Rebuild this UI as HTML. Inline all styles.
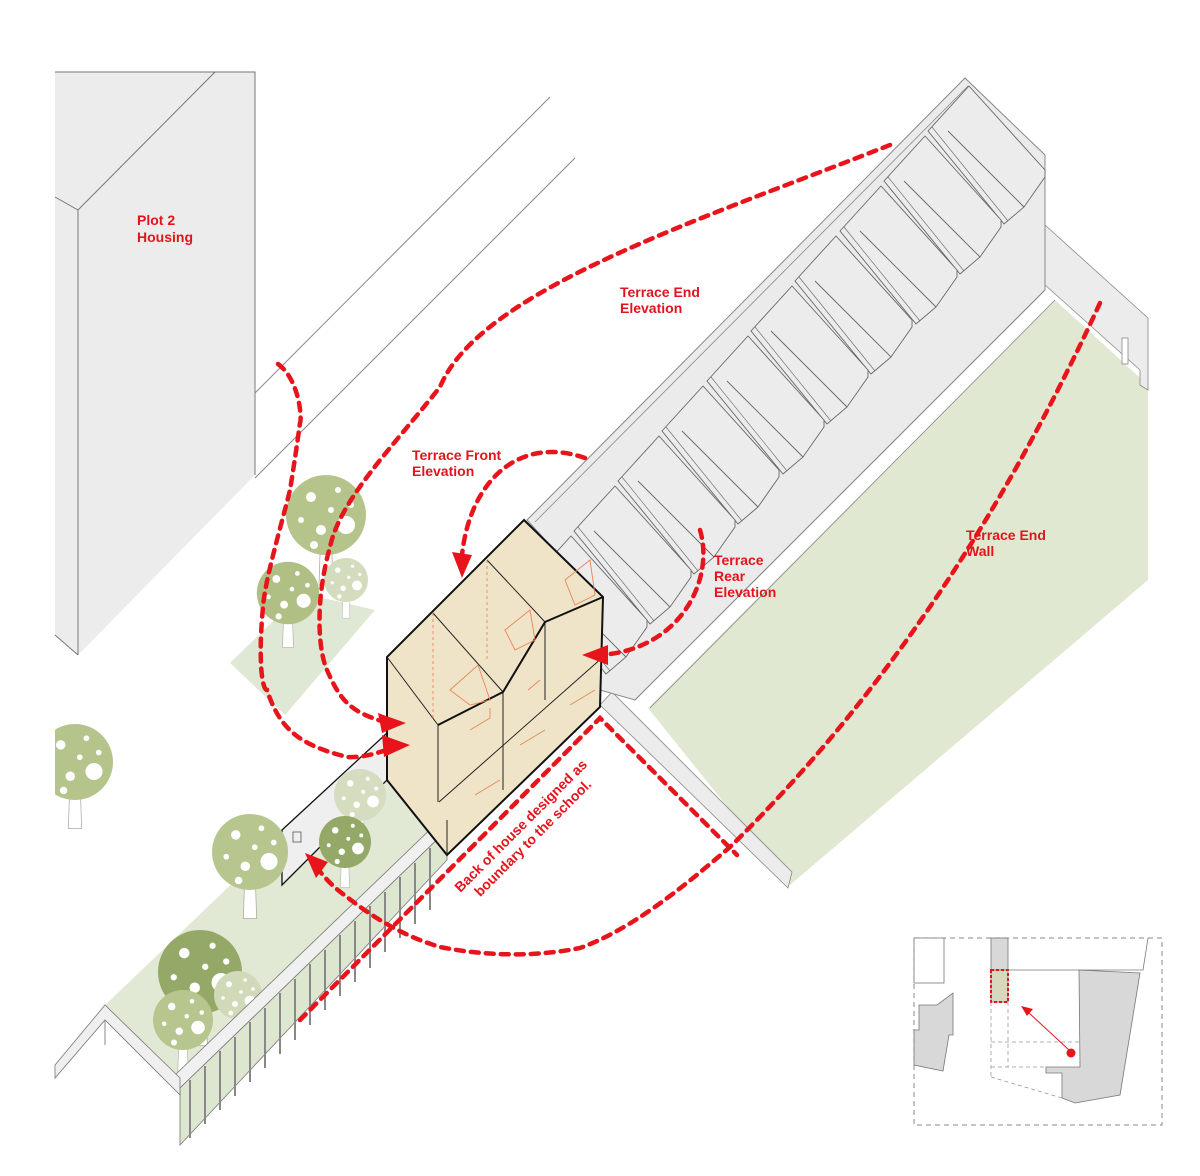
<!DOCTYPE html>
<html><head><meta charset="utf-8"><style>
html,body{margin:0;padding:0;background:#fff}
svg{display:block}
text{font-family:"Liberation Sans",sans-serif;font-weight:bold;fill:#e3141c;font-size:14px}
</style></head><body>
<svg width="1200" height="1176" viewBox="0 0 1200 1176" xmlns="http://www.w3.org/2000/svg">
<defs>
<g id="mod" fill="#ececec" stroke="#666" stroke-width="0.9">
  <polygon points="0,0 41,-45 117,39 117,46 96,76 76,93"/>
  <line x1="20" y1="0" x2="96" y2="76"/>
  <line x1="4" y1="-4" x2="80" y2="90" stroke-width="0.6"/>
</g>
<g id="tree">
  <path d="M-5,10 L-7,70 L7,70 L5,10 Z" fill="#fff" stroke="#aaa" stroke-width="0.8"/>
  <circle r="40" fill="currentColor"/>
  <circle cx="-15" cy="-18" r="5" fill="#fff"/><circle cx="12" cy="-25" r="3" fill="#fff"/>
  <circle cx="20" cy="10" r="9" fill="#fff"/><circle cx="-5" cy="15" r="5" fill="#fff"/>
  <circle cx="-25" cy="5" r="3" fill="#fff"/><circle cx="5" cy="-5" r="3" fill="#fff"/>
  <circle cx="-12" cy="30" r="4" fill="#fff"/><circle cx="25" cy="-10" r="3" fill="#fff"/>
</g>
</defs>

<!-- Plot 2 housing -->
<polygon points="55,72 255,72 255,475 78,655 55,635" fill="#ececec"/>
<polyline points="55,72 255,72 255,475" fill="none" stroke="#777" stroke-width="1"/>
<polyline points="55,197 78,210 215,72" fill="none" stroke="#777" stroke-width="1"/>
<line x1="78" y1="210" x2="78" y2="655" stroke="#777" stroke-width="1"/>
<line x1="55" y1="635" x2="78" y2="655" stroke="#777" stroke-width="1"/>
<line x1="255" y1="393" x2="550" y2="97" stroke="#888" stroke-width="1"/>
<line x1="255" y1="478" x2="575" y2="158" stroke="#888" stroke-width="1"/>

<!-- ground / green -->
<polygon points="648,708 1055,300 1148,385 1148,580 790,885" fill="#e1e8d2"/>
<polygon points="1045,225 1148,318 1148,390 1140,385 1140,370 1045,285" fill="#ececec" stroke="#888" stroke-width="0.8"/>
<rect x="1122" y="338" width="6" height="26" fill="#fff" stroke="#888" stroke-width="0.8"/>
<polygon points="600,705 612,692 792,872 788,888" fill="#ececec" stroke="#888" stroke-width="0.8"/>

<!-- terrace -->
<polygon points="527,520 965,78 1045,155 1045,290 635,700 600,690 600,600" fill="#ebebeb" stroke="#888" stroke-width="1"/>
<line x1="535" y1="522" x2="968" y2="86" stroke="#888" stroke-width="0.8"/>
<line x1="635" y1="700" x2="1045" y2="290" stroke="#888" stroke-width="0.8"/>
<line x1="650" y1="708" x2="1055" y2="300" stroke="#888" stroke-width="0.8"/>
<use href="#mod" transform="translate(928,131)"/>
<use href="#mod" transform="translate(884,181)"/>
<use href="#mod" transform="translate(840,231)"/>
<use href="#mod" transform="translate(795,281)"/>
<use href="#mod" transform="translate(751,331)"/>
<use href="#mod" transform="translate(707,381)"/>
<use href="#mod" transform="translate(662,431)"/>
<use href="#mod" transform="translate(618,481)"/>
<use href="#mod" transform="translate(574,531)"/>
<use href="#mod" transform="translate(530,581)"/>

<!-- green patch and trees top -->
<polygon points="230,663 302,593 375,610 285,715" fill="#dfe8d4"/>
<use href="#tree" transform="translate(326,515) scale(1)" color="#b4c48a"/>
<use href="#tree" transform="translate(288,593) scale(0.78)" color="#b0c085"/>
<use href="#tree" transform="translate(346,580) scale(0.55)" color="#d3dcbd"/>
<use href="#tree" transform="translate(75,762) scale(0.95)" color="#b4c48a"/>
<rect x="0" y="700" width="55" height="200" fill="#fff"/>

<!-- garden strip -->
<polygon points="100,1010 387,735 445,825 175,1090" fill="#e1e9d4"/>
<polygon points="282,830 387,733 387,780 282,885" fill="#efefef" stroke="#111" stroke-width="1.3"/>
<rect x="293" y="832" width="8" height="10" fill="none" stroke="#555" stroke-width="0.8"/>
<use href="#tree" transform="translate(250,852) scale(0.95)" color="#b6c68e"/>
<use href="#tree" transform="translate(360,795) scale(0.65)" color="#d5ddc0"/>
<use href="#tree" transform="translate(345,842) scale(0.65)" color="#94a868"/>
<use href="#tree" transform="translate(200,972) scale(1.05)" color="#94a868"/>
<use href="#tree" transform="translate(238,995) scale(0.6)" color="#d0d9b8"/>
<use href="#tree" transform="translate(183,1020) scale(0.75)" color="#b6c68e"/>
<!-- fence -->
<polygon points="175,1075 440,820 447,830 180,1088" fill="#f0f0f0" stroke="#777" stroke-width="0.8"/>
<polygon points="180,1088 447,830 447,860 180,1145" fill="#dde6cf" stroke="#777" stroke-width="0.8"/>
<g stroke="#888" stroke-width="2">
<line x1="190" y1="1080" x2="190" y2="1138"/><line x1="205" y1="1066" x2="205" y2="1124"/><line x1="220" y1="1051" x2="220" y2="1110"/><line x1="235" y1="1037" x2="235" y2="1096"/><line x1="250" y1="1022" x2="250" y2="1082"/><line x1="265" y1="1008" x2="265" y2="1068"/><line x1="280" y1="993" x2="280" y2="1054"/><line x1="295" y1="979" x2="295" y2="1040"/><line x1="310" y1="964" x2="310" y2="1025"/><line x1="325" y1="950" x2="325" y2="1010"/><line x1="340" y1="935" x2="340" y2="996"/><line x1="355" y1="921" x2="355" y2="982"/><line x1="370" y1="906" x2="370" y2="968"/><line x1="385" y1="892" x2="385" y2="952"/><line x1="400" y1="877" x2="400" y2="938"/><line x1="415" y1="863" x2="415" y2="924"/><line x1="430" y1="848" x2="430" y2="910"/>
</g>
<polygon points="55,1065 105,1005 180,1078 180,1095 105,1020 55,1078" fill="#efefef" stroke="#777" stroke-width="0.8"/>
<line x1="105" y1="1020" x2="105" y2="1045" stroke="#888"/>

<!-- house -->
<polygon points="524,520 603,597 600,707 447,855 387,780 387,657" fill="#efe4c8" stroke="#111" stroke-width="2"/>
<g stroke="#222" stroke-width="1" fill="none">
<line x1="387" y1="657" x2="438" y2="725"/>
<line x1="433" y1="613" x2="503" y2="692"/>
<line x1="487" y1="560" x2="545" y2="622"/>
<line x1="438" y1="725" x2="438" y2="802"/>
<line x1="503" y1="692" x2="503" y2="790"/>
<line x1="545" y1="622" x2="545" y2="700"/>
<line x1="439" y1="802" x2="603" y2="657"/>
</g>
<polyline points="438,725 503,692 545,622 603,597" fill="none" stroke="#111" stroke-width="2"/>
<line x1="447" y1="855" x2="447" y2="820" stroke="#222"/>
<g stroke="#e8865a" stroke-width="0.9" fill="none">
<polygon points="450,690 478,665 490,700 470,705"/><polygon points="505,630 530,610 535,640 515,650"/><polygon points="565,580 590,560 595,595 575,605"/>
<polyline points="470,730 490,718 490,708"/><polyline points="528,690 540,680"/><polyline points="475,795 500,780"/><polyline points="520,745 545,730"/><polyline points="570,705 595,690"/>
<line x1="433" y1="613" x2="433" y2="720" stroke-dasharray="3 3"/><line x1="487" y1="560" x2="487" y2="660" stroke-dasharray="3 3"/>
</g>

<!-- dashed arrows -->
<g fill="none" stroke="#e8141c" stroke-width="4.5" stroke-dasharray="8 7" stroke-linecap="round">
<path d="M890,145 C700,220 480,290 440,387 C390,450 340,500 330,547 C315,600 318,650 327,670 C340,700 350,712 385,722"/>
<path d="M278,364 C300,380 302,420 300,423 C295,460 290,490 290,490 C280,530 265,580 263,607 C258,660 262,690 267,690 C280,730 300,745 347,757 C365,758 380,752 392,748"/>
<path d="M585,458 C520,435 470,480 462,555"/>
<path d="M700,530 C715,580 680,650 600,655"/>
<path d="M1100,303 C1000,520 880,700 730,847 C680,890 630,930 580,948 C530,958 480,955 440,947 C400,935 370,915 347,897 C330,885 320,872 315,865"/>
<path d="M300,1020 L600,718 L737,855"/>
</g>
<g fill="#e8141c">
<polygon points="406,723 378,713 382,733"/>
<polygon points="410,745 382,735 384,757"/>
<polygon points="462,578 452,552 472,555"/>
<polygon points="582,655 608,645 608,665"/>
<polygon points="305,853 328,862 316,878"/>
</g>

<!-- labels -->
<text x="137" y="225">Plot 2</text><text x="137" y="242">Housing</text>
<text x="620" y="297">Terrace End</text><text x="620" y="313">Elevation</text>
<text x="412" y="460">Terrace Front</text><text x="412" y="476">Elevation</text>
<text x="714" y="565">Terrace</text><text x="714" y="581">Rear</text><text x="714" y="597">Elevation</text>
<text x="966" y="540">Terrace End</text><text x="966" y="556">Wall</text>
<g transform="translate(527,832) rotate(-45)">
<text x="0" y="-4" text-anchor="middle">Back of house designed as</text>
<text x="0" y="13" text-anchor="middle">boundary to the school.</text>
</g>

<!-- inset -->
<rect x="914" y="938" width="248" height="187" fill="none" stroke="#888" stroke-dasharray="5 4" stroke-width="1"/>
<rect x="914" y="938" width="30" height="45" fill="#fff" stroke="#777" stroke-width="0.8"/>
<rect x="991" y="938" width="17" height="32" fill="#d8d8d8" stroke="#777" stroke-width="0.8"/>
<rect x="991" y="970" width="17" height="32" fill="#d6d9be" stroke="#777" stroke-width="0.8"/>
<rect x="991" y="970" width="17" height="32" fill="none" stroke="#e8141c" stroke-width="2" stroke-dasharray="3 2"/>
<polyline points="1008,970 1143,970 1148,938" fill="none" stroke="#777" stroke-width="0.8"/>
<polygon points="1079,970 1140,973 1120,1095 1075,1103 1062,1098 1062,1073 1046,1073 1046,1067 1080,1067" fill="#d8d8d8" stroke="#777" stroke-width="0.8"/>
<polygon points="914,1030 919,1030 919,1005 937,1005 953,993 953,1035 949,1035 943,1071 914,1065" fill="#d8d8d8" stroke="#777" stroke-width="0.8"/>
<g stroke="#999" stroke-width="0.8" stroke-dasharray="4 3" fill="none">
<line x1="991" y1="1002" x2="991" y2="1077"/><line x1="1008" y1="1002" x2="1008" y2="1067"/>
<line x1="991" y1="1042" x2="1080" y2="1042"/><line x1="991" y1="1067" x2="1046" y2="1067"/>
<line x1="991" y1="1077" x2="1062" y2="1098"/>
</g>
<line x1="1069" y1="1050" x2="1028" y2="1012" stroke="#e8141c" stroke-width="1"/>
<polygon points="1021,1006 1033,1009 1027,1016" fill="#e8141c"/>
<circle cx="1071" cy="1053" r="4.5" fill="#e8141c"/>
</svg>
</body></html>
